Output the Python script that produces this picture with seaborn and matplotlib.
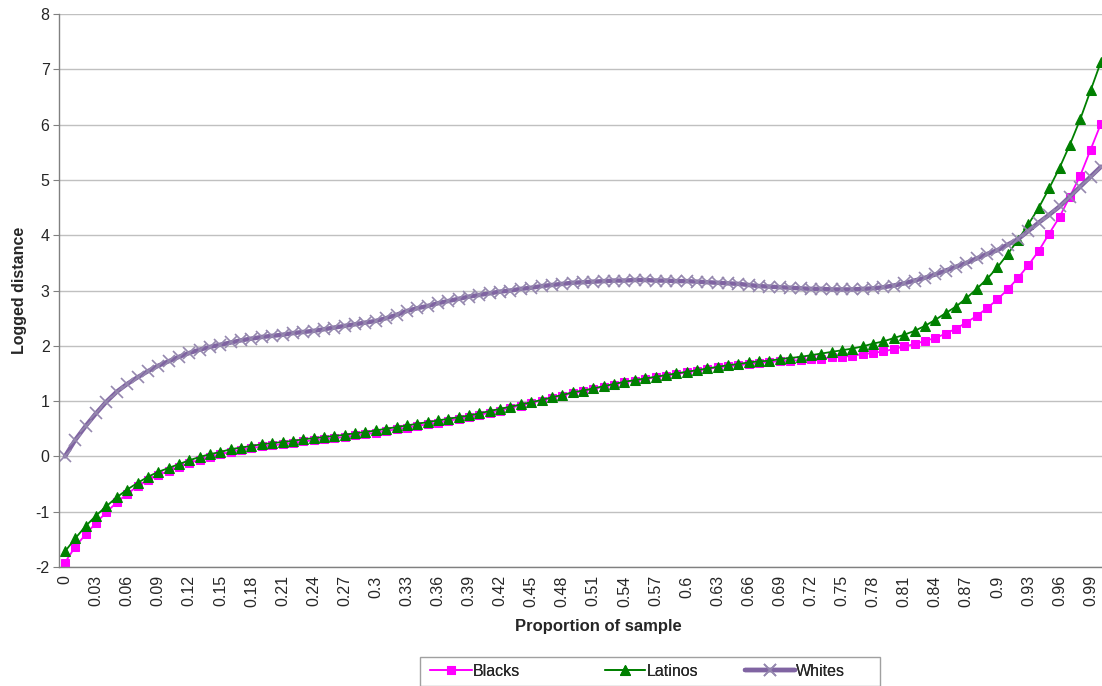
import numpy as np
import pandas as pd
import matplotlib
matplotlib.use("Agg")
import matplotlib.pyplot as plt
from matplotlib.patches import Rectangle
import seaborn as sns

# categories on the x axis: proportion of sample, 0 .. 1.00
proportion = [round(i / 100, 2) for i in range(101)]

# logged distance
blacks = [
    -1.92, -1.63, -1.41, -1.20, -1.01, -0.83, -0.68, -0.54, -0.43, -0.34,
    -0.26, -0.19, -0.12, -0.06, -0.01, 0.04, 0.08, 0.12, 0.15, 0.18,
    0.20, 0.22, 0.24, 0.27, 0.29, 0.31, 0.33, 0.35, 0.38, 0.40,
    0.43, 0.46, 0.49, 0.52, 0.55, 0.58, 0.61, 0.64, 0.68, 0.71,
    0.75, 0.79, 0.83, 0.88, 0.92, 0.97, 1.01, 1.06, 1.10, 1.14,
    1.18, 1.22, 1.26, 1.30, 1.34, 1.37, 1.40, 1.43, 1.46, 1.49,
    1.52, 1.55, 1.58, 1.61, 1.63, 1.65, 1.67, 1.69, 1.71, 1.72,
    1.73, 1.74, 1.76, 1.77, 1.79, 1.80, 1.82, 1.85, 1.87, 1.90,
    1.94, 1.99, 2.03, 2.09, 2.14, 2.22, 2.31, 2.42, 2.54, 2.68,
    2.84, 3.02, 3.23, 3.46, 3.72, 4.03, 4.33, 4.70, 5.08, 5.55,
    6.02,
]
latinos = [
    -1.72, -1.48, -1.26, -1.07, -0.90, -0.74, -0.60, -0.48, -0.37, -0.28,
    -0.21, -0.14, -0.07, -0.01, 0.04, 0.08, 0.13, 0.16, 0.19, 0.22,
    0.24, 0.26, 0.28, 0.31, 0.33, 0.35, 0.37, 0.39, 0.42, 0.44,
    0.47, 0.50, 0.53, 0.56, 0.59, 0.62, 0.65, 0.68, 0.71, 0.74,
    0.78, 0.82, 0.86, 0.90, 0.94, 0.98, 1.02, 1.07, 1.11, 1.16,
    1.19, 1.23, 1.27, 1.31, 1.35, 1.38, 1.41, 1.44, 1.47, 1.50,
    1.53, 1.56, 1.59, 1.62, 1.65, 1.67, 1.70, 1.72, 1.73, 1.76,
    1.78, 1.80, 1.83, 1.86, 1.89, 1.92, 1.95, 1.99, 2.04, 2.08,
    2.14, 2.20, 2.27, 2.36, 2.47, 2.59, 2.71, 2.86, 3.03, 3.21,
    3.42, 3.66, 3.92, 4.20, 4.50, 4.85, 5.22, 5.64, 6.10, 6.62,
    7.14,
]
whites = [
    0.00, 0.30, 0.55, 0.78, 0.99, 1.17, 1.31, 1.43, 1.54, 1.64,
    1.72, 1.80, 1.87, 1.93, 1.98, 2.02, 2.06, 2.10, 2.13, 2.16,
    2.18, 2.20, 2.23, 2.25, 2.27, 2.30, 2.33, 2.36, 2.39, 2.42,
    2.45, 2.50, 2.56, 2.63, 2.68, 2.72, 2.77, 2.81, 2.85, 2.89,
    2.92, 2.95, 2.98, 3.00, 3.03, 3.05, 3.08, 3.10, 3.12, 3.14,
    3.15, 3.16, 3.17, 3.18, 3.18, 3.19, 3.19, 3.18, 3.18, 3.17,
    3.17, 3.16, 3.15, 3.14, 3.13, 3.12, 3.10, 3.08, 3.07, 3.06,
    3.05, 3.04, 3.03, 3.03, 3.02, 3.02, 3.02, 3.03, 3.04, 3.06,
    3.09, 3.13, 3.18, 3.23, 3.29, 3.36, 3.43, 3.50, 3.58, 3.66,
    3.73, 3.83, 3.93, 4.08, 4.23, 4.37, 4.52, 4.70, 4.88, 5.06,
    5.24,
]

# every third category carries a label, Excel "General" format
tick_values = proportion[::3]
tick_labels = [f"{p:g}" for p in tick_values]
y_ticks = [-2, -1, 0, 1, 2, 3, 4, 5, 6, 7, 8]

df = pd.DataFrame({"proportion": proportion, "Blacks": blacks,
                   "Latinos": latinos, "Whites": whites})
long = df.melt(id_vars="proportion", var_name="group", value_name="logdist")

sns.set_style("white")
plt.rcParams["font.family"] = ["Liberation Sans", "DejaVu Sans"]
FS = 11.5

fig = plt.figure(figsize=(11.02, 6.86), dpi=100)
ax = fig.add_axes([0.0538, 0.1735, 0.9498, 0.806])

styles = {
    "Blacks": dict(color="#FF00FF", marker="s", markersize=5.5, linewidth=1.3,
                   markeredgecolor="#FF00FF", markerfacecolor="#FF00FF"),
    "Latinos": dict(color="#008000", marker="^", markersize=6.5, linewidth=1.3,
                    markeredgecolor="#008000", markerfacecolor="#008000"),
    "Whites": dict(color="#8064A2", marker="x", markersize=8, linewidth=3.2,
                   markeredgecolor="#9588AE", markeredgewidth=1.2),
}
for name in ["Blacks", "Latinos", "Whites"]:
    sub = long[long["group"] == name]
    sns.lineplot(data=sub, x="proportion", y="logdist", ax=ax, label=name,
                 estimator=None, errorbar=None, **styles[name])

ax.set_xlim(-0.0055, 1.0048)
ax.set_ylim(-2, 8)
ax.set_yticks(y_ticks)
ax.set_yticklabels([str(v) for v in y_ticks], fontsize=FS)
ax.set_xticks(tick_values)
ax.set_xticklabels(tick_labels, rotation=90, fontsize=FS)
ax.set_xticks([(i - 0.5) / 100 for i in range(1, 101)], minor=True)
ax.tick_params(axis="x", which="major", length=0, pad=6)
ax.tick_params(axis="x", which="minor", length=5, color="#808080", width=0.8)
ax.tick_params(axis="y", length=4, color="#808080", width=0.8, left=True, pad=3)

ax.yaxis.grid(True, color="#C0C0C0", linewidth=1)
ax.set_axisbelow(True)
for side in ["top", "right"]:
    ax.spines[side].set_visible(False)
ax.spines["left"].set_color("#808080")
ax.spines["bottom"].set_color("#808080")
ax.spines["left"].set_linewidth(1)
ax.spines["bottom"].set_linewidth(1)

ax.set_ylabel("Logged distance", fontsize=FS, fontweight="bold", labelpad=6)
ax.set_xlabel("")
fig.text(598 / 1102, 1 - 627 / 686, "Proportion of sample", ha="center",
         va="center", fontsize=FS + 0.5, fontweight="bold")

# legend: one entry per slot, like Excel lays them out
handles, labels = ax.get_legend_handles_labels()
ax.get_legend().remove()
slots = {"Blacks": (430, 2.6), "Latinos": (605, 2.5), "Whites": (745, 3.1)}
for h, lab in zip(handles, labels):
    x0, hl = slots[lab]
    lg = fig.legend([h], [lab], loc="center left",
                    bbox_to_anchor=(x0 / 1102, 1 - 671 / 686), fontsize=FS,
                    frameon=False, handlelength=hl, handletextpad=0.1,
                    borderpad=0, borderaxespad=0)
    fig.add_artist(lg)
# legend box, wider than its entries
fig.patches.append(Rectangle((420 / 1102, 0), 460 / 1102, 29 / 686,
                             transform=fig.transFigure, fill=False,
                             edgecolor="#A0A0A0", linewidth=1, zorder=0))

fig.savefig("out.png", dpi=100)
